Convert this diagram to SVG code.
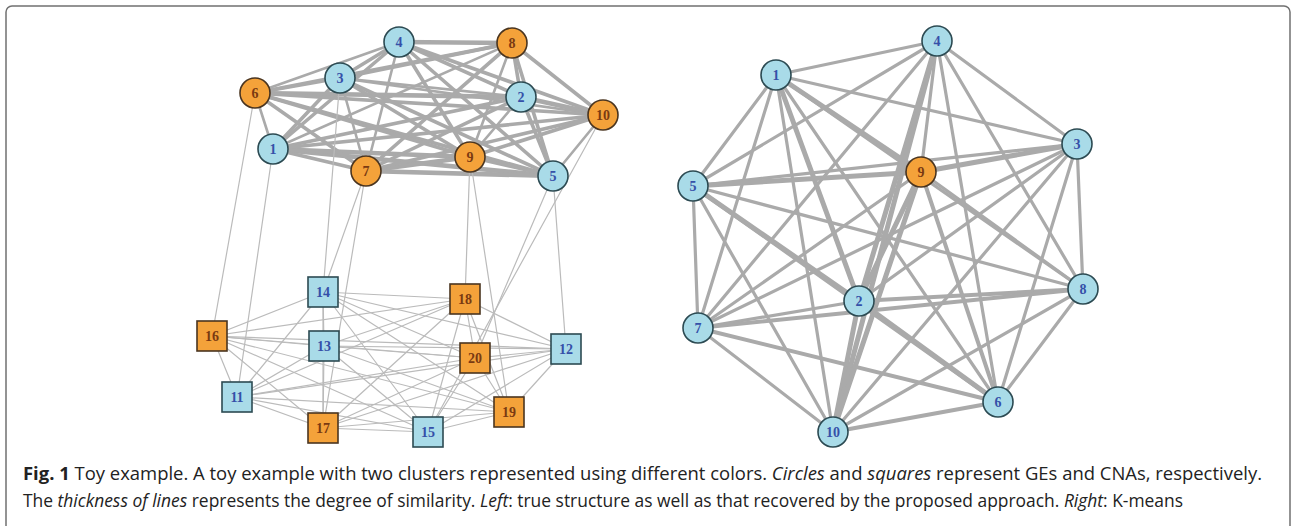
<svg xmlns="http://www.w3.org/2000/svg" width="1292" height="526" viewBox="0 0 1292 526">
<style>
.frame{fill:#fff;stroke:#707070;stroke-width:1.5}
.e{stroke:#aaaaaa;stroke-linecap:round;fill:none}
.w1{stroke-width:1.2;stroke:#bbbbbb}
.w2{stroke-width:2.6}
.w3{stroke-width:3.6}
.w4{stroke-width:4.6}
.r2{stroke-width:3.2}
.r3{stroke-width:4}
.r4{stroke-width:5}
.blue{fill:#a9dbe8;stroke:#2c4a52;stroke-width:1.6}
.orange{fill:#f4a23a;stroke:#4a3520;stroke-width:1.6}
.lb{font-family:"Liberation Serif","Times New Roman",serif;font-size:14px;font-weight:bold;text-anchor:middle;fill:#3550a8}
.lo{font-family:"Liberation Serif","Times New Roman",serif;font-size:14px;font-weight:bold;text-anchor:middle;fill:#7a3a12}
.cap{font-family:"Open Sans","Noto Sans","Liberation Sans",sans-serif;font-size:18px;fill:#222}
</style>
<rect class="frame" x="6" y="6" width="1284" height="540" rx="6"/>
<g id="connectors">
<!-- left top cluster -->
<line class="e w3" x1="273" y1="149" x2="521" y2="97"/>
<line class="e w3" x1="273" y1="149" x2="340" y2="78"/>
<line class="e w3" x1="273" y1="149" x2="399" y2="42"/>
<line class="e w4" x1="273" y1="149" x2="553" y2="176"/>
<line class="e w2" x1="273" y1="149" x2="255" y2="93"/>
<line class="e w3" x1="273" y1="149" x2="366" y2="171"/>
<line class="e w2" x1="273" y1="149" x2="512" y2="43"/>
<line class="e w4" x1="273" y1="149" x2="470" y2="157"/>
<line class="e w3" x1="273" y1="149" x2="603" y2="115"/>
<line class="e w2" x1="521" y1="97" x2="340" y2="78"/>
<line class="e w3" x1="521" y1="97" x2="399" y2="42"/>
<line class="e w3" x1="521" y1="97" x2="553" y2="176"/>
<line class="e w4" x1="521" y1="97" x2="255" y2="93"/>
<line class="e w3" x1="521" y1="97" x2="366" y2="171"/>
<line class="e w3" x1="521" y1="97" x2="512" y2="43"/>
<line class="e w2" x1="521" y1="97" x2="470" y2="157"/>
<line class="e w4" x1="521" y1="97" x2="603" y2="115"/>
<line class="e w3" x1="340" y1="78" x2="399" y2="42"/>
<line class="e w3" x1="340" y1="78" x2="553" y2="176"/>
<line class="e w3" x1="340" y1="78" x2="255" y2="93"/>
<line class="e w2" x1="340" y1="78" x2="366" y2="171"/>
<line class="e w3" x1="340" y1="78" x2="512" y2="43"/>
<line class="e w3" x1="340" y1="78" x2="470" y2="157"/>
<line class="e w2" x1="340" y1="78" x2="603" y2="115"/>
<line class="e w3" x1="399" y1="42" x2="553" y2="176"/>
<line class="e w2" x1="399" y1="42" x2="255" y2="93"/>
<line class="e w2" x1="399" y1="42" x2="366" y2="171"/>
<line class="e w4" x1="399" y1="42" x2="512" y2="43"/>
<line class="e w3" x1="399" y1="42" x2="470" y2="157"/>
<line class="e w3" x1="399" y1="42" x2="603" y2="115"/>
<line class="e w3" x1="553" y1="176" x2="255" y2="93"/>
<line class="e w4" x1="553" y1="176" x2="366" y2="171"/>
<line class="e w3" x1="553" y1="176" x2="512" y2="43"/>
<line class="e w3" x1="553" y1="176" x2="470" y2="157"/>
<line class="e w2" x1="553" y1="176" x2="603" y2="115"/>
<line class="e w3" x1="255" y1="93" x2="366" y2="171"/>
<line class="e w3" x1="255" y1="93" x2="512" y2="43"/>
<line class="e w3" x1="255" y1="93" x2="470" y2="157"/>
<line class="e w3" x1="255" y1="93" x2="603" y2="115"/>
<line class="e w3" x1="366" y1="171" x2="512" y2="43"/>
<line class="e w4" x1="366" y1="171" x2="470" y2="157"/>
<line class="e w3" x1="366" y1="171" x2="603" y2="115"/>
<line class="e w2" x1="512" y1="43" x2="470" y2="157"/>
<line class="e w3" x1="512" y1="43" x2="603" y2="115"/>
<line class="e w3" x1="470" y1="157" x2="603" y2="115"/>
<!-- inter-cluster -->
<line class="e w1" x1="255" y1="93" x2="212" y2="336"/>
<line class="e w1" x1="273" y1="149" x2="237" y2="397"/>
<line class="e w1" x1="340" y1="78" x2="323" y2="292"/>
<line class="e w1" x1="366" y1="171" x2="323" y2="292"/>
<line class="e w1" x1="366" y1="171" x2="323" y2="428"/>
<line class="e w1" x1="470" y1="157" x2="509" y2="412"/>
<line class="e w1" x1="470" y1="157" x2="465" y2="299"/>
<line class="e w1" x1="553" y1="176" x2="566" y2="349"/>
<line class="e w1" x1="553" y1="176" x2="475" y2="358"/>
<line class="e w1" x1="603" y1="115" x2="428" y2="432"/>
<!-- bottom cluster -->
<line class="e w1" x1="237" y1="397" x2="566" y2="349"/>
<line class="e w1" x1="237" y1="397" x2="324" y2="346"/>
<line class="e w1" x1="237" y1="397" x2="323" y2="292"/>
<line class="e w1" x1="237" y1="397" x2="428" y2="432"/>
<line class="e w1" x1="237" y1="397" x2="212" y2="336"/>
<line class="e w1" x1="237" y1="397" x2="323" y2="428"/>
<line class="e w1" x1="237" y1="397" x2="465" y2="299"/>
<line class="e w1" x1="237" y1="397" x2="509" y2="412"/>
<line class="e w1" x1="237" y1="397" x2="475" y2="358"/>
<line class="e w1" x1="566" y1="349" x2="324" y2="346"/>
<line class="e w1" x1="566" y1="349" x2="323" y2="292"/>
<line class="e w1" x1="566" y1="349" x2="428" y2="432"/>
<line class="e w1" x1="566" y1="349" x2="212" y2="336"/>
<line class="e w1" x1="566" y1="349" x2="323" y2="428"/>
<line class="e w1" x1="566" y1="349" x2="465" y2="299"/>
<line class="e w1" x1="566" y1="349" x2="509" y2="412"/>
<line class="e w1" x1="566" y1="349" x2="475" y2="358"/>
<line class="e w1" x1="324" y1="346" x2="323" y2="292"/>
<line class="e w1" x1="324" y1="346" x2="428" y2="432"/>
<line class="e w1" x1="324" y1="346" x2="212" y2="336"/>
<line class="e w1" x1="324" y1="346" x2="323" y2="428"/>
<line class="e w1" x1="324" y1="346" x2="465" y2="299"/>
<line class="e w1" x1="324" y1="346" x2="509" y2="412"/>
<line class="e w1" x1="324" y1="346" x2="475" y2="358"/>
<line class="e w1" x1="323" y1="292" x2="428" y2="432"/>
<line class="e w1" x1="323" y1="292" x2="212" y2="336"/>
<line class="e w1" x1="323" y1="292" x2="323" y2="428"/>
<line class="e w1" x1="323" y1="292" x2="465" y2="299"/>
<line class="e w1" x1="323" y1="292" x2="509" y2="412"/>
<line class="e w1" x1="323" y1="292" x2="475" y2="358"/>
<line class="e w1" x1="428" y1="432" x2="212" y2="336"/>
<line class="e w1" x1="428" y1="432" x2="323" y2="428"/>
<line class="e w1" x1="428" y1="432" x2="465" y2="299"/>
<line class="e w1" x1="428" y1="432" x2="509" y2="412"/>
<line class="e w1" x1="428" y1="432" x2="475" y2="358"/>
<line class="e w1" x1="212" y1="336" x2="323" y2="428"/>
<line class="e w1" x1="212" y1="336" x2="465" y2="299"/>
<line class="e w1" x1="212" y1="336" x2="509" y2="412"/>
<line class="e w1" x1="212" y1="336" x2="475" y2="358"/>
<line class="e w1" x1="323" y1="428" x2="465" y2="299"/>
<line class="e w1" x1="323" y1="428" x2="509" y2="412"/>
<line class="e w1" x1="323" y1="428" x2="475" y2="358"/>
<line class="e w1" x1="465" y1="299" x2="509" y2="412"/>
<line class="e w1" x1="465" y1="299" x2="475" y2="358"/>
<line class="e w1" x1="509" y1="412" x2="475" y2="358"/>
<!-- right graph -->
<line class="e r4" x1="776" y1="75" x2="859" y2="301"/>
<line class="e r2" x1="776" y1="75" x2="1077" y2="144"/>
<line class="e r2" x1="776" y1="75" x2="937" y2="41"/>
<line class="e r2" x1="776" y1="75" x2="693" y2="186"/>
<line class="e r2" x1="776" y1="75" x2="998" y2="402"/>
<line class="e r2" x1="776" y1="75" x2="698" y2="328"/>
<line class="e r2" x1="776" y1="75" x2="1083" y2="289"/>
<line class="e r4" x1="776" y1="75" x2="921" y2="172"/>
<line class="e r2" x1="776" y1="75" x2="833" y2="432"/>
<line class="e r2" x1="859" y1="301" x2="1077" y2="144"/>
<line class="e r4" x1="859" y1="301" x2="937" y2="41"/>
<line class="e r4" x1="859" y1="301" x2="693" y2="186"/>
<line class="e r4" x1="859" y1="301" x2="998" y2="402"/>
<line class="e r2" x1="859" y1="301" x2="698" y2="328"/>
<line class="e r3" x1="859" y1="301" x2="1083" y2="289"/>
<line class="e r4" x1="859" y1="301" x2="921" y2="172"/>
<line class="e r4" x1="859" y1="301" x2="833" y2="432"/>
<line class="e r2" x1="1077" y1="144" x2="937" y2="41"/>
<line class="e r2" x1="1077" y1="144" x2="693" y2="186"/>
<line class="e r2" x1="1077" y1="144" x2="998" y2="402"/>
<line class="e r2" x1="1077" y1="144" x2="698" y2="328"/>
<line class="e r2" x1="1077" y1="144" x2="1083" y2="289"/>
<line class="e r4" x1="1077" y1="144" x2="921" y2="172"/>
<line class="e r2" x1="1077" y1="144" x2="833" y2="432"/>
<line class="e r2" x1="937" y1="41" x2="693" y2="186"/>
<line class="e r2" x1="937" y1="41" x2="998" y2="402"/>
<line class="e r2" x1="937" y1="41" x2="698" y2="328"/>
<line class="e r2" x1="937" y1="41" x2="1083" y2="289"/>
<line class="e r2" x1="937" y1="41" x2="921" y2="172"/>
<line class="e r4" x1="937" y1="41" x2="833" y2="432"/>
<line class="e r3" x1="693" y1="186" x2="998" y2="402"/>
<line class="e r2" x1="693" y1="186" x2="698" y2="328"/>
<line class="e r2" x1="693" y1="186" x2="1083" y2="289"/>
<line class="e r4" x1="693" y1="186" x2="921" y2="172"/>
<line class="e r2" x1="693" y1="186" x2="833" y2="432"/>
<line class="e r3" x1="998" y1="402" x2="698" y2="328"/>
<line class="e r2" x1="998" y1="402" x2="1083" y2="289"/>
<line class="e r3" x1="998" y1="402" x2="921" y2="172"/>
<line class="e r3" x1="998" y1="402" x2="833" y2="432"/>
<line class="e r3" x1="698" y1="328" x2="1083" y2="289"/>
<line class="e r2" x1="698" y1="328" x2="921" y2="172"/>
<line class="e r2" x1="698" y1="328" x2="833" y2="432"/>
<line class="e r2" x1="1083" y1="289" x2="921" y2="172"/>
<line class="e r2" x1="1083" y1="289" x2="833" y2="432"/>
<line class="e r4" x1="921" y1="172" x2="833" y2="432"/>
</g>
<!-- left top nodes -->
<g id="L1"><circle class="blue" cx="273" cy="149" r="15"/><text class="lb" x="273" y="154">1</text></g>
<g id="L2"><circle class="blue" cx="521" cy="97" r="15"/><text class="lb" x="521" y="102">2</text></g>
<g id="L3"><circle class="blue" cx="340" cy="78" r="15"/><text class="lb" x="340" y="83">3</text></g>
<g id="L4"><circle class="blue" cx="399" cy="42" r="15"/><text class="lb" x="399" y="47">4</text></g>
<g id="L5"><circle class="blue" cx="553" cy="176" r="15"/><text class="lb" x="553" y="181">5</text></g>
<g id="L6"><circle class="orange" cx="255" cy="93" r="15"/><text class="lo" x="255" y="98">6</text></g>
<g id="L7"><circle class="orange" cx="366" cy="171" r="15"/><text class="lo" x="366" y="176">7</text></g>
<g id="L8"><circle class="orange" cx="512" cy="43" r="15"/><text class="lo" x="512" y="48">8</text></g>
<g id="L9"><circle class="orange" cx="470" cy="157" r="15"/><text class="lo" x="470" y="162">9</text></g>
<g id="L10"><circle class="orange" cx="603" cy="115" r="15"/><text class="lo" x="603" y="120">10</text></g>
<!-- bottom squares -->
<g id="S11"><rect class="blue" x="222" y="382" width="30" height="30"/><text class="lb" x="237" y="402">11</text></g>
<g id="S12"><rect class="blue" x="551" y="334" width="30" height="30"/><text class="lb" x="566" y="354">12</text></g>
<g id="S13"><rect class="blue" x="309" y="331" width="30" height="30"/><text class="lb" x="324" y="351">13</text></g>
<g id="S14"><rect class="blue" x="308" y="277" width="30" height="30"/><text class="lb" x="323" y="297">14</text></g>
<g id="S15"><rect class="blue" x="413" y="417" width="30" height="30"/><text class="lb" x="428" y="437">15</text></g>
<g id="S16"><rect class="orange" x="197" y="321" width="30" height="30"/><text class="lo" x="212" y="341">16</text></g>
<g id="S17"><rect class="orange" x="308" y="413" width="30" height="30"/><text class="lo" x="323" y="433">17</text></g>
<g id="S18"><rect class="orange" x="450" y="284" width="30" height="30"/><text class="lo" x="465" y="304">18</text></g>
<g id="S19"><rect class="orange" x="494" y="397" width="30" height="30"/><text class="lo" x="509" y="417">19</text></g>
<g id="S20"><rect class="orange" x="460" y="343" width="30" height="30"/><text class="lo" x="475" y="363">20</text></g>
<!-- right nodes -->
<g id="R1"><circle class="blue" cx="776" cy="75" r="15"/><text class="lb" x="776" y="80">1</text></g>
<g id="R2"><circle class="blue" cx="859" cy="301" r="15"/><text class="lb" x="859" y="306">2</text></g>
<g id="R3"><circle class="blue" cx="1077" cy="144" r="15"/><text class="lb" x="1077" y="149">3</text></g>
<g id="R4"><circle class="blue" cx="937" cy="41" r="15"/><text class="lb" x="937" y="46">4</text></g>
<g id="R5"><circle class="blue" cx="693" cy="186" r="15"/><text class="lb" x="693" y="191">5</text></g>
<g id="R6"><circle class="blue" cx="998" cy="402" r="15"/><text class="lb" x="998" y="407">6</text></g>
<g id="R7"><circle class="blue" cx="698" cy="328" r="15"/><text class="lb" x="698" y="333">7</text></g>
<g id="R8"><circle class="blue" cx="1083" cy="289" r="15"/><text class="lb" x="1083" y="294">8</text></g>
<g id="R9"><circle class="orange" cx="921" cy="172" r="15"/><text class="lo" x="921" y="177">9</text></g>
<g id="R10"><circle class="blue" cx="833" cy="432" r="15"/><text class="lb" x="833" y="437">10</text></g>
<g id="caption">
<text class="cap" x="23" y="480" textLength="1239" lengthAdjust="spacingAndGlyphs"><tspan font-weight="bold">Fig. 1</tspan> Toy example. A toy example with two clusters represented using different colors. <tspan font-style="italic">Circles</tspan> and <tspan font-style="italic">squares</tspan> represent GEs and CNAs, respectively.</text>
<text class="cap" x="23" y="507" textLength="1160" lengthAdjust="spacingAndGlyphs">The <tspan font-style="italic">thickness of lines</tspan> represents the degree of similarity. <tspan font-style="italic">Left</tspan>: true structure as well as that recovered by the proposed approach. <tspan font-style="italic">Right</tspan>: K-means</text>
</g>
</svg>
